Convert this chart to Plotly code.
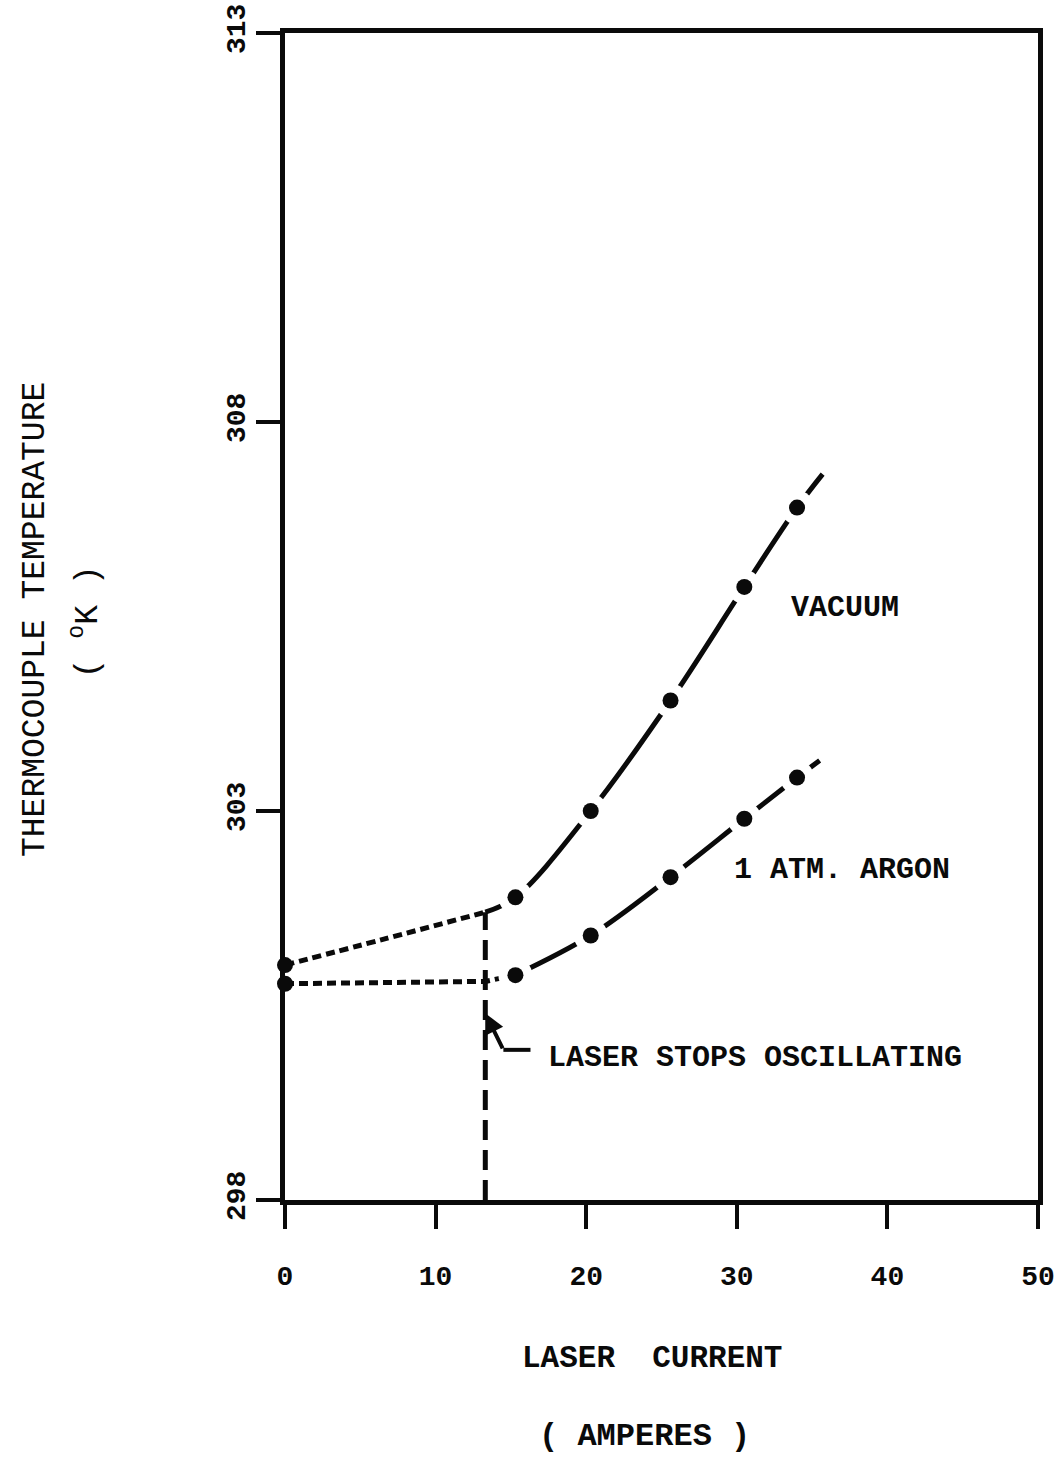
import plotly.graph_objects as go

# Laser current (A) and thermocouple temperature (K) readings
current = [0.0, 15.3, 20.3, 25.6, 30.5, 34.0]
temp_vacuum = [301.02, 301.89, 303.0, 304.42, 305.88, 306.9]
temp_argon = [300.78, 300.89, 301.40, 302.15, 302.9, 303.43]

# Low-current (non-lasing) dotted portions
vac_dotted_x = [0.0, 6.5, 13.3]
vac_dotted_y = [301.02, 301.35, 301.70]
arg_dotted_x = [0.0, 13.3, 15.3]
arg_dotted_y = [300.78, 300.81, 300.89]

# Fitted curves above the oscillation threshold
vac_fit_x = [13.3, 15.3, 20.3, 25.6, 30.5, 34.0, 35.7]
vac_fit_y = [301.70, 301.89, 303.0, 304.42, 305.88, 306.9, 307.33]
arg_fit_x = [15.3, 20.3, 25.6, 30.5, 34.0, 35.5]
arg_fit_y = [300.89, 301.40, 302.15, 302.9, 303.43, 303.65]

# Oscillation threshold marker
threshold_x = [13.3, 13.3]
threshold_y = [298.0, 301.70]

x_ticks = [0, 10, 20, 30, 40, 50]
y_ticks = [298, 303, 308, 313]

FONT = "Liberation Mono"
INK = "#0a0a0a"
LW = 5

fig = go.Figure()

fig.add_trace(go.Scatter(x=vac_dotted_x, y=vac_dotted_y, mode="lines", line_shape="spline",
                         line=dict(color=INK, width=LW, dash="9px,5px"), cliponaxis=False))
fig.add_trace(go.Scatter(x=arg_dotted_x, y=arg_dotted_y, mode="lines",
                         line=dict(color=INK, width=LW, dash="9px,5px"), cliponaxis=False))
fig.add_trace(go.Scatter(x=vac_fit_x, y=vac_fit_y, mode="lines", line_shape="spline",
                         line=dict(color=INK, width=LW), cliponaxis=False))
fig.add_trace(go.Scatter(x=arg_fit_x, y=arg_fit_y, mode="lines", line_shape="spline",
                         line=dict(color=INK, width=LW), cliponaxis=False))
fig.add_trace(go.Scatter(x=threshold_x, y=threshold_y, mode="lines",
                         line=dict(color=INK, width=LW, dash="20px,10px"), cliponaxis=False))

# White halo so the curves break around each measured point
for ys in (temp_vacuum, temp_argon):
    fig.add_trace(go.Scatter(x=current[1:], y=ys[1:], mode="markers",
                             marker=dict(color="white", size=34), cliponaxis=False))
for ys in (temp_vacuum, temp_argon):
    fig.add_trace(go.Scatter(x=current, y=ys, mode="markers",
                             marker=dict(color=INK, size=16), cliponaxis=False))

# Bent leader for the threshold label
leader_x = [14.5, 16.3]
leader_y = [299.93, 299.93]
fig.add_trace(go.Scatter(x=leader_x, y=leader_y, mode="lines",
                         line=dict(color=INK, width=4), cliponaxis=False))
fig.add_annotation(x=13.3, y=300.40, ax=14.5, ay=299.93, axref="x", ayref="y",
                   xref="x", yref="y", showarrow=True, arrowhead=2, arrowsize=1,
                   arrowwidth=4, arrowcolor=INK, text="")

label_font = dict(family=FONT, size=30, color=INK)
fig.add_annotation(x=37.2, y=305.61, text="<b>VACUUM</b>", showarrow=False, font=label_font)
fig.add_annotation(x=37.0, y=302.24, text="<b>1 ATM. ARGON</b>", showarrow=False, font=label_font)
fig.add_annotation(x=17.3, y=299.82, text="<b>LASER STOPS OSCILLATING</b>", showarrow=False,
                   xanchor="left", font=label_font)

# Axis titles
title_common = dict(xref="paper", yref="paper", showarrow=False,
                    xanchor="center", yanchor="middle")
fig.add_annotation(x=0.487, y=-0.1354, text="<b>LASER\u00a0\u00a0CURRENT</b>",
                   font=dict(family=FONT, size=31, color=INK), **title_common)
fig.add_annotation(x=0.478, y=-0.203, text="<b>(\u00a0AMPERES\u00a0)</b>",
                   font=dict(family=FONT, size=32, color=INK), **title_common)
fig.add_annotation(x=-0.332, y=0.497, textangle=-90, text="THERMOCOUPLE TEMPERATURE",
                   font=dict(family=FONT, size=33, color=INK), **title_common)
fig.add_annotation(x=-0.2656, y=0.495, textangle=-90, text="(\u00a0<sup>o</sup>K\u00a0)",
                   font=dict(family=FONT, size=33, color=INK), **title_common)

axis_common = dict(showgrid=False, zeroline=False, showline=True, linecolor=INK,
                   linewidth=LW, mirror=True, ticks="outside", tickcolor=INK,
                   tickwidth=4, ticklen=24, automargin=False)

fig.update_xaxes(range=[0, 50], tickvals=x_ticks, ticktext=[str(v) for v in x_ticks],
                 tickfont=dict(family=FONT, size=28, color=INK, weight="bold"),
                 ticklabelstandoff=22, **axis_common)
fig.update_yaxes(range=[298, 313], tickvals=y_ticks, ticktext=[str(v) for v in y_ticks],
                 tickangle=-90, tickfont=dict(family=FONT, size=28, color=INK, weight="bold"),
                 ticklabelstandoff=0, **axis_common)

fig.update_layout(width=1057, height=1460, showlegend=False,
                  paper_bgcolor="white", plot_bgcolor="white",
                  margin=dict(l=285, r=19, t=33, b=260, autoexpand=False))

fig.write_html("out.html")
